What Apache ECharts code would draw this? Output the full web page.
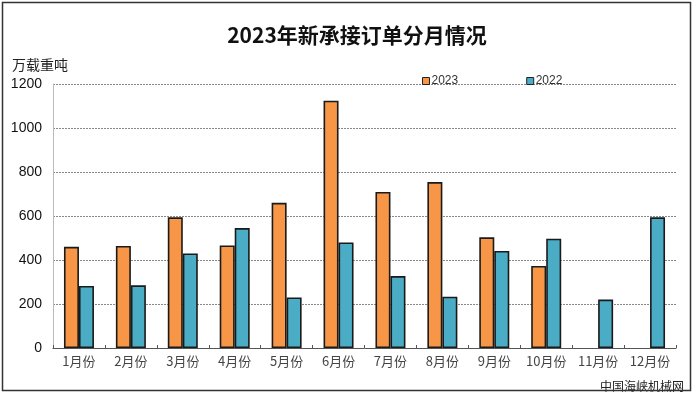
<!DOCTYPE html>
<html><head><meta charset="utf-8">
<script src="https://cdn.jsdelivr.net/npm/echarts@6/dist/echarts.min.js"></script>
<style>html,body{margin:0;padding:0;background:#fff}#c{width:693px;height:395px}</style>
</head><body><div id="c"></div>
<script>
const categories = ['1月份','2月份','3月份','4月份','5月份','6月份','7月份','8月份','9月份','10月份','11月份','12月份'];
const values2023 = [460, 464, 594, 466, 660, 1124, 709, 754, 503, 373, null, null];
const values2022 = [282, 285, 430, 545, 230, 480, 327, 233, 441, 497, 220, 594];
const yTicks = [0, 200, 400, 600, 800, 1000, 1200];

const chart = echarts.init(document.getElementById('c'), null, {renderer: 'canvas'});
chart.setOption({
  backgroundColor: '#fff',
  animation: false,
  title: {
    text: '2023年新承接订单分月情况',
    left: 352, textAlign: 'center', top: 20,
    textStyle: {fontFamily: 'Noto Sans CJK SC', fontSize: 21, fontWeight: 'bold', color: '#111'}
  },
  legend: {
    left: 417, top: 70, itemWidth: 7, itemHeight: 7, itemGap: 68, icon: 'rect',
    data: ['2023', '2022'],
    itemStyle: {borderColor: '#222', borderWidth: 1},
    textStyle: {fontFamily: 'Liberation Sans', fontSize: 12, color: '#333', padding: [0,0,0,-3]}
  },
  grid: {left: 53, right: 17, top: 84, bottom: 47, containLabel: false},
  xAxis: {
    type: 'category', data: categories,
    axisLine: {lineStyle: {color: '#555', width: 1}},
    axisTick: {show: true, inside: true, length: 3, lineStyle: {color: '#555'}},
    axisLabel: {interval: 0, fontFamily: 'Noto Sans CJK SC', fontSize: 13, color: '#444', margin: 7}
  },
  yAxis: {
    type: 'value', min: yTicks[0], max: yTicks[yTicks.length-1], interval: 200,
    axisLine: {show: true, lineStyle: {color: '#bbb', width: 1}},
    axisTick: {show: false},
    axisLabel: {fontFamily: 'Liberation Sans', fontSize: 14, color: '#111', margin: 11,
      formatter: v => String(v)},
    splitLine: {lineStyle: {color: '#888', type: [2, 1], width: 1}}
  },
  series: [
    {name: '2023', type: 'bar', data: values2023, barWidth: 15, barGap: '0%',
     itemStyle: {color: '#F79646', borderColor: '#1a1a1a', borderWidth: 1.6}},
    {name: '2022', type: 'bar', data: values2022, barWidth: 15,
     itemStyle: {color: '#4BACC6', borderColor: '#1a1a1a', borderWidth: 1.6}}
  ],
  graphic: [
    {type: 'rect', shape: {x: 2.5, y: 2.5, width: 688, height: 388},
     style: {fill: 'none', stroke: '#333', lineWidth: 1.5}, silent: true, z: 100},
    {type: 'text', left: 12, top: 58,
     style: {text: '万载重吨', font: '14px "Noto Sans CJK SC"', fill: '#222'}},
    {type: 'text', left: 600, top: 380,
     style: {text: '中国海峡机械网', font: '12px "Noto Sans CJK SC"', fill: '#222'}}
  ]
});
</script></body></html>
